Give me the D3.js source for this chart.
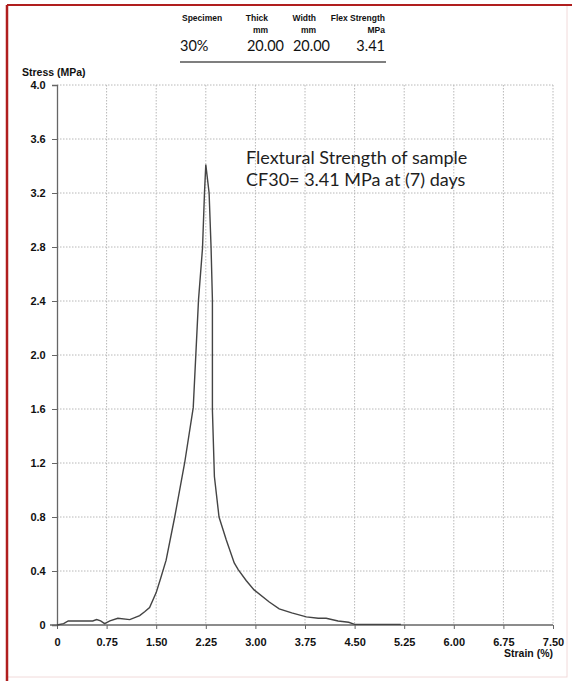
<!DOCTYPE html>
<html>
<head>
<meta charset="utf-8">
<script src="https://cdn.jsdelivr.net/npm/d3@7"></script>
<style>
body { margin: 0; background: #fff; }
svg { display: block; }
</style>
</head>
<body>
<svg></svg>
<script>
// curve: strain (%) and stress (MPa)
const strain = [0, 0.10, 0.17, 0.54, 0.60, 0.66, 0.72, 0.80, 0.92, 1.10, 1.25, 1.33, 1.40, 1.50, 1.57, 1.65, 1.78, 1.93, 2.06, 2.14, 2.20, 2.23, 2.25,
  2.30, 2.33, 2.35, 2.35, 2.38, 2.45, 2.56, 2.68, 2.74, 2.86, 2.98, 3.21, 3.36, 3.55, 3.77, 3.95, 4.07, 4.25, 4.41, 4.50, 4.80, 5.20];
const stress = [0, 0.01, 0.03, 0.03, 0.04, 0.03, 0.01, 0.03, 0.05, 0.04, 0.07, 0.10, 0.13, 0.24, 0.35, 0.48, 0.80, 1.20, 1.61, 2.41, 2.79, 3.20, 3.41,
  3.20, 2.79, 2.41, 1.59, 1.10, 0.80, 0.63, 0.46, 0.41, 0.33, 0.26, 0.17, 0.12, 0.09, 0.06, 0.05, 0.05, 0.03, 0.02, 0.005, 0.005, 0.005];

const xTicks = [0, 0.75, 1.5, 2.25, 3, 3.75, 4.5, 5.25, 6, 6.75, 7.5];
const yTicks = [0, 0.4, 0.8, 1.2, 1.6, 2.0, 2.4, 2.8, 3.2, 3.6, 4.0];

const tableHead1 = ['Specimen', 'Thick', 'Width', 'Flex Strength'];
const tableHead2 = ['', 'mm', 'mm', 'MPa'];
const tableRow = ['30%', '20.00', '20.00', '3.41'];

const noteLines = ['Flextural Strength of sample', 'CF30= 3.41 MPa at (7) days'];

const svg = d3.select('svg').attr('width', 572).attr('height', 681);

// page frame
svg.append('rect').attr('x', 7).attr('y', 5).attr('width', 560).attr('height', 672)
  .attr('fill', 'none').attr('stroke', '#f1dada').attr('stroke-width', 1);
svg.append('line').attr('x1', 7).attr('x2', 572).attr('y1', 5).attr('y2', 5)
  .attr('stroke', '#b01e1e').attr('stroke-width', 2);
svg.append('line').attr('x1', 7).attr('x2', 7).attr('y1', 5).attr('y2', 681)
  .attr('stroke', '#b01e1e').attr('stroke-width', 2.5);

const margin = {top: 85, left: 57};
const innerWidth = 496, innerHeight = 540;
const tf = 'Liberation Sans, Arial, sans-serif';

const x = d3.scaleLinear().domain([0, 7.5]).range([0, innerWidth]);
const y = d3.scaleLinear().domain([0, 4]).range([innerHeight, 0]);

const g = svg.append('g').attr('transform', `translate(${margin.left},${margin.top})`);

// grid
g.selectAll('.vg').data(xTicks.slice(1)).enter().append('line')
  .attr('x1', d => x(d)).attr('x2', d => x(d)).attr('y1', 0).attr('y2', innerHeight)
  .attr('stroke', '#b8b8b8').attr('stroke-dasharray', '1.5,1.5');
g.selectAll('.hg').data(yTicks.slice(1)).enter().append('line')
  .attr('x1', 0).attr('x2', innerWidth).attr('y1', d => y(d)).attr('y2', d => y(d))
  .attr('stroke', '#b8b8b8').attr('stroke-dasharray', '1.5,1.5');

// axes
const xAxis = d3.axisBottom(x).tickValues(xTicks).tickSize(4)
  .tickFormat(d => d === 0 ? '0' : d3.format('.2f')(d));
const yAxis = d3.axisLeft(y).tickValues(yTicks).tickSize(5)
  .tickFormat(d => d === 0 ? '0' : d3.format('.1f')(d));

const gx = g.append('g').attr('transform', `translate(0,${innerHeight})`).call(xAxis);
const gy = g.append('g').call(yAxis);
[gx, gy].forEach(a => {
  a.attr('font-family', tf).attr('font-size', 11);
  a.select('.domain').attr('stroke', '#666').attr('stroke-width', 1.3);
  a.selectAll('.tick line').attr('stroke', '#666');
  a.selectAll('text').attr('fill', '#111').attr('font-weight', 'bold');
});
gx.select('.domain').attr('d', `M-7,0H${innerWidth}`);
gx.selectAll('text').attr('dy', '1.3em');
gy.selectAll('text').attr('dx', '-0.3em');

// axis titles
svg.append('text').attr('x', 22).attr('y', 76).text('Stress (MPa)')
  .attr('font-family', tf).attr('font-weight', 'bold')
  .attr('font-size', 10.5).attr('fill', '#111');
svg.append('text').attr('x', margin.left + innerWidth).attr('y', 657).attr('text-anchor', 'end')
  .text('Strain (%)')
  .attr('font-family', tf).attr('font-weight', 'bold')
  .attr('font-size', 10.5).attr('fill', '#111');

// curve
const pts = strain.map((s, i) => [s, stress[i]]);
const line = d3.line().x(d => x(d[0])).y(d => y(d[1])).curve(d3.curveLinear);
g.append('path').datum(pts).attr('d', line)
  .attr('fill', 'none').attr('stroke', '#444').attr('stroke-width', 1.4);

// annotation, one text per line
svg.selectAll('.note').data(noteLines).enter().append('text')
  .attr('font-family', 'Lato, Open Sans, sans-serif')
  .attr('font-size', 18).attr('fill', '#1e1e1e')
  .attr('x', 246).attr('y', (d, i) => 164 + i * 22).text(d => d);

// table at top
const colRight = [223, 268, 316, 385];
svg.selectAll('.th1').data(tableHead1).enter().append('text')
  .attr('x', (d, i) => i === 0 ? 182 : colRight[i]).attr('y', 21)
  .attr('text-anchor', (d, i) => i === 0 ? 'start' : 'end')
  .attr('font-family', tf).attr('font-weight', 'bold').attr('font-size', 8.5).attr('fill', '#111')
  .text(d => d);
svg.selectAll('.th2').data(tableHead2.map((d, i) => [d, i]).filter(d => d[0])).enter().append('text')
  .attr('x', d => colRight[d[1]]).attr('y', 33).attr('text-anchor', 'end')
  .attr('font-family', tf).attr('font-weight', 'bold').attr('font-size', 8.5).attr('fill', '#111')
  .text(d => d[0]);
const valRight = [206, 284, 330, 385];
svg.selectAll('.tr').data(tableRow).enter().append('text')
  .attr('x', (d, i) => i === 0 ? 180 : valRight[i]).attr('y', 51)
  .attr('text-anchor', (d, i) => i === 0 ? 'start' : 'end')
  .attr('font-family', 'Lato, Open Sans, sans-serif').attr('font-size', 14.5).attr('fill', '#111')
  .text(d => d);
svg.append('line').attr('x1', 180).attr('x2', 386).attr('y1', 62).attr('y2', 62)
  .attr('stroke', '#555').attr('stroke-width', 1.3);
</script>
</body>
</html>
